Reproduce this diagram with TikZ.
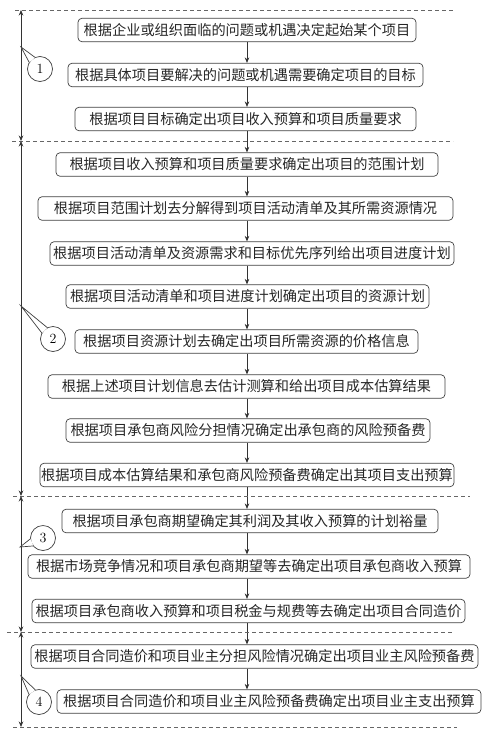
\documentclass[tikz,border=0pt]{standalone}
\usepackage{fontspec}
\newfontfamily\cjk{Noto Sans CJK SC}
\usetikzlibrary{arrows.meta,calc}

\begin{document}
\begin{tikzpicture}[x=1pt,y=-1pt,
  stepbox/.style={draw=black!75,rounded corners=4pt,line width=0.7pt,minimum height=23.5pt,inner xsep=0pt,inner ysep=0pt,font=\cjk\fontsize{14.2}{16}\selectfont,text=black!85},
  flow/.style={-{Stealth[length=5.5pt,width=4.5pt]},line width=0.7pt,black!80},
  span/.style={{Stealth[length=5.5pt,width=4.5pt]}-{Stealth[length=5.5pt,width=4.5pt]},line width=0.7pt,black!80},
  sep/.style={dash pattern=on 4pt off 3pt,black!60,line width=0.6pt},
  tag/.style={draw=black!75,circle,fill=white,minimum size=25pt,inner sep=0pt,line width=0.7pt,font=\fontsize{14}{16}\selectfont}]
  \useasboundingbox (0,0) rectangle (489,739);

  \node[stepbox,minimum width=338pt] (b1)  at (247,30)    {根据企业或组织面临的问题或机遇决定起始某个项目};
  \node[stepbox,minimum width=355pt] (b2)  at (245.5,75)  {根据具体项目要解决的问题或机遇需要确定项目的目标};
  \node[stepbox,minimum width=341pt] (b3)  at (245.5,119) {根据项目目标确定出项目收入预算和项目质量要求};
  \node[stepbox,minimum width=382pt] (b4)  at (247,164.5) {根据项目收入预算和项目质量要求确定出项目的范围计划};
  \node[stepbox,minimum width=415pt] (b5)  at (245.5,208.5) {根据项目范围计划去分解得到项目活动清单及其所需资源情况};
  \node[stepbox,minimum width=404pt] (b6)  at (252,253.5) {根据项目活动清单及资源需求和目标优先序列给出项目进度计划};
  \node[stepbox,minimum width=363pt] (b7)  at (247.5,296.5) {根据项目活动清单和项目进度计划确定出项目的资源计划};
  \node[stepbox,minimum width=343pt] (b8)  at (246.5,341.5) {根据项目资源计划去确定出项目所需资源的价格信息};
  \node[stepbox,minimum width=397pt] (b9)  at (246.5,386.5) {根据上述项目计划信息去估计测算和给出项目成本估算结果};
  \node[stepbox,minimum width=364pt] (b10) at (248,430.5) {根据项目承包商风险分担情况确定出承包商的风险预备费};
  \node[stepbox,minimum width=414pt] (b11) at (247,475)   {根据项目成本估算结果和承包商风险预备费确定出其项目支出预算};
  \node[stepbox,minimum width=376pt] (b12) at (250,521)   {根据项目承包商期望确定其利润及其收入预算的计划裕量};
  \node[stepbox,minimum width=442pt] (b13) at (249,566.5) {根据市场竞争情况和项目承包商期望等去确定出项目承包商收入预算};
  \node[stepbox,minimum width=433pt] (b14) at (248.5,611) {根据项目承包商收入预算和项目税金与规费等去确定出项目合同造价};
  \node[stepbox,minimum width=447pt] (b15) at (254.5,656.5) {根据项目合同造价和项目业主分担风险情况确定出项目业主风险预备费};
  \node[stepbox,minimum width=424pt] (b16) at (269,701.5) {根据项目合同造价和项目业主风险预备费确定出项目业主支出预算};

  \coordinate (axis) at (247,0);
  \foreach \i [evaluate=\i as \j using int(\i+1)] in {1,...,15}
    \draw[flow] (b\i.south -| axis) -- (b\j.north -| axis);

  \draw[sep] (15,10) -- (453,10);
  \draw[sep] (12,141) -- (453,141);
  \draw[sep] (13,496) -- (470,496);
  \draw[sep] (7,632) -- (453,632);
  \draw[sep] (13,727) -- (457,727);

  \coordinate (m0) at (21,10);
  \coordinate (m1) at (21,141);
  \coordinate (m2) at (21,496);
  \coordinate (m3) at (21,632);
  \coordinate (m4) at (21,727);
  \draw[span] (m0) -- (m1);
  \draw[span] (m1) -- (m2);
  \draw[span] (m2) -- (m3);
  \draw[span] (m3) -- (m4);

  \node[tag] (t1) at (40,69)  {1};
  \node[tag] (t2) at (53,339) {2};
  \node[tag] (t3) at (43,538) {3};
  \node[tag] (t4) at (39,702) {4};
  \coordinate (p1) at (21,47);
  \coordinate (p2) at (21,306);
  \coordinate (p3) at (20,547);
  \coordinate (p4) at (21,676);
  \foreach \k in {1,...,4}{
    \fill[white] ($(t\k.center)!12.5pt!18:(p\k)$) -- (p\k) -- ($(t\k.center)!12.5pt!-18:(p\k)$) -- cycle;
    \draw[black!75,line width=0.7pt] ($(t\k.center)!12.5pt!18:(p\k)$) -- (p\k) -- ($(t\k.center)!12.5pt!-18:(p\k)$);
  }
\end{tikzpicture}
\end{document}
